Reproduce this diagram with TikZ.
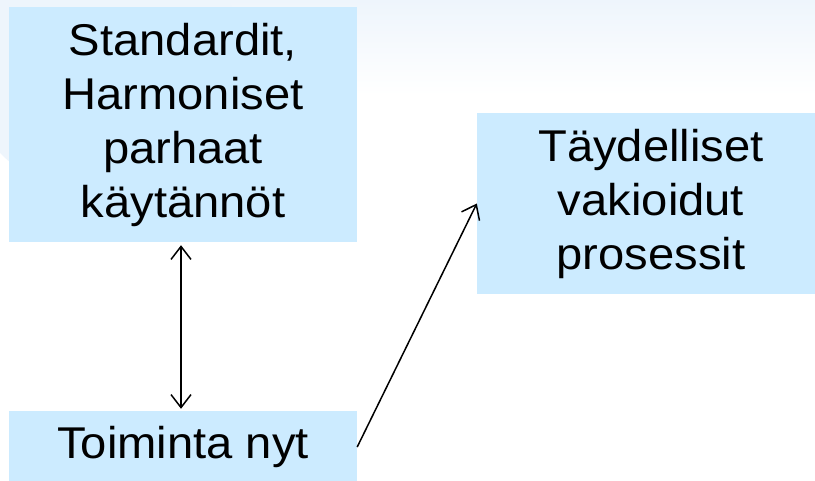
\documentclass[tikz,border=0pt]{standalone}
\usepackage{fontspec}
\setmainfont{Liberation Sans}[FakeStretch=1.06]
\usepackage{tikz}
\usetikzlibrary{arrows.meta}
\definecolor{boxblue}{RGB}{204,235,255}
\definecolor{paleblue}{RGB}{238,245,252}

\begin{document}
\begin{tikzpicture}[x=1pt,y=-1pt,
    box/.style={fill=boxblue, align=center, inner sep=0pt,
        font=\fontsize{44.5}{54}\selectfont},
    barb/.tip={Straight Barb[length=13pt,width=20pt,line width=1.5pt]},
    link/.style={line width=1.5pt}]
            \useasboundingbox (0,0) rectangle (815,481);
            % Background
            \shade[top color=paleblue, bottom color=white] (0,0) rectangle (815,95);
            \fill[paleblue] (100,55) circle (140);
            % Boxes
            \node[box, minimum width=348pt, minimum height=235pt] (practice) at (183,124.5)
                {Standardit,\\Harmoniset\\parhaat\\käytännöt};
            \node[box, minimum width=348pt, minimum height=181pt] (process) at (651,203.5)
                {Täydelliset\\vakioidut\\prosessit};
            \node[box, minimum width=348pt, minimum height=72pt] (now) at (183,447)
                {Toiminta nyt};
            % Arrows
            \draw[link, barb-barb, shorten <=3pt, shorten >=2pt]
                ([xshift=-2pt]practice.south) -- ([xshift=-2pt]now.north);
            \draw[link, -barb] (now.east) -- (process.west);
        \end{tikzpicture}
\end{document}
